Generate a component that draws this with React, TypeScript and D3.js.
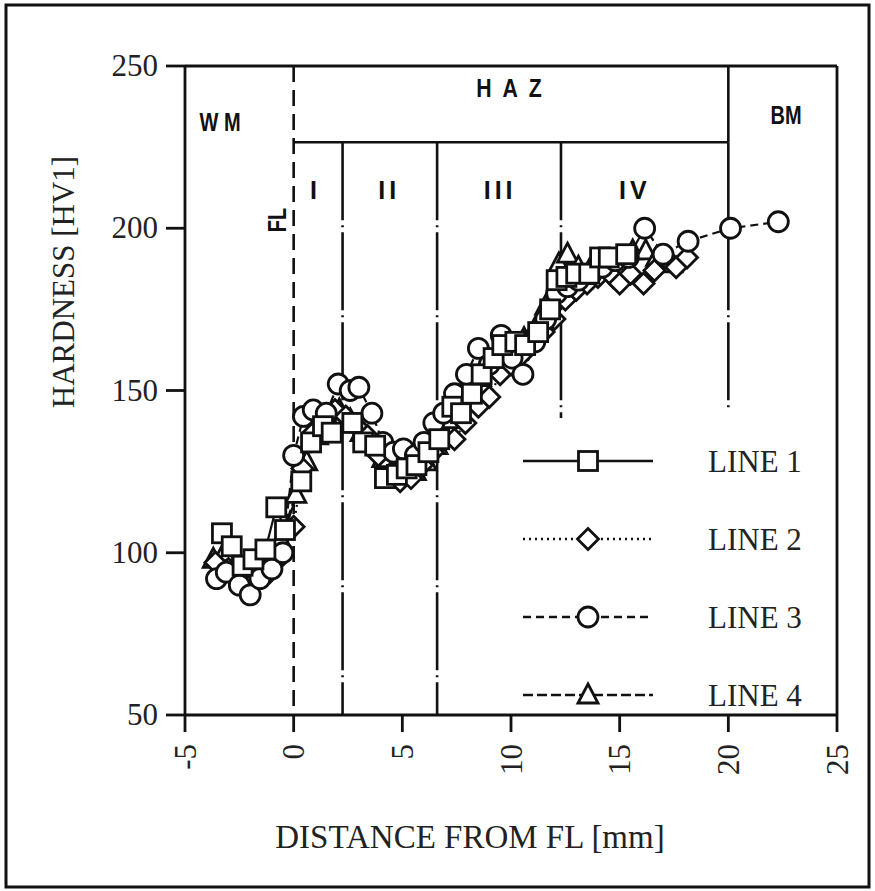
import React from "react";
import * as d3 from "d3";

// ---- data ----
const line1: [number, number][] = [
  [-3.3, 106], [-2.85, 102], [-2.35, 96], [-1.85, 98], [-1.3, 101], [-0.8, 114], [-0.4, 107],
  [0.35, 122], [0.8, 134], [1.35, 139], [1.75, 137], [2.7, 140], [3.2, 134], [3.75, 133],
  [4.2, 123], [4.75, 124], [5.2, 126], [5.65, 127], [6.2, 131], [6.7, 135], [7.3, 145],
  [7.7, 143], [8.2, 149], [8.65, 155], [9.2, 160], [9.6, 164], [10.2, 165], [10.65, 164],
  [11.25, 168], [11.8, 175], [12.1, 184], [12.55, 185], [13.0, 186], [13.6, 186], [14.1, 191],
  [14.5, 191], [15.3, 192],
];
const line2: [number, number][] = [
  [-3.6, 97], [-3.0, 95], [-2.5, 92], [-2.0, 90], [-1.6, 93], [-1.1, 94], [-0.55, 99], [0, 108],
  [0.4, 126], [0.9, 137], [1.4, 141], [1.9, 144], [2.4, 142], [2.9, 139], [3.4, 136], [3.9, 130],
  [4.4, 124], [4.9, 122], [5.4, 123], [5.9, 127], [6.4, 131], [6.9, 135], [7.4, 135], [7.9, 140],
  [8.5, 145], [9.0, 148], [9.5, 155], [10.0, 158], [10.5, 161], [11.0, 165], [11.5, 168],
  [12.0, 172], [12.5, 178], [13.0, 181], [13.5, 183], [14.0, 185], [14.7, 185], [15.0, 183],
  [15.5, 186], [16.1, 183], [16.6, 187], [17.1, 191], [17.6, 188], [18.1, 191],
];
const line3: [number, number][] = [
  [-3.55, 92], [-3.1, 94], [-2.5, 90], [-2.0, 87], [-1.55, 92], [-1.0, 95], [-0.5, 100], [0, 130],
  [0.45, 142], [0.9, 144], [1.5, 143], [2.05, 152], [2.6, 150], [3.0, 151], [3.6, 143], [4.1, 134],
  [4.6, 131], [5.05, 132], [5.6, 130], [6.0, 134], [6.45, 140], [6.9, 143], [7.4, 149], [7.95, 155],
  [8.5, 163], [9.0, 158], [9.55, 167], [10.05, 160], [10.55, 155], [11.1, 165], [11.6, 172],
  [12.1, 180], [12.6, 182], [13.1, 184], [13.7, 186], [14.2, 188], [14.8, 190], [15.4, 191],
  [16.15, 200], [17.0, 192], [18.15, 196], [20.1, 200], [22.3, 202],
];
const line4: [number, number][] = [
  [-3.7, 98], [-3.2, 100], [-2.7, 96], [-2.2, 94], [-1.7, 96], [-1.2, 100], [-0.6, 104], [0.1, 118],
  [0.6, 128], [1.1, 136], [1.6, 141], [2.1, 144], [2.6, 141], [3.1, 137], [3.6, 134], [4.1, 129],
  [4.6, 125], [5.1, 124], [5.6, 125], [6.1, 128], [6.6, 133], [7.1, 141], [7.6, 146], [8.1, 151],
  [8.6, 154], [9.1, 157], [9.6, 160], [10.1, 163], [10.6, 166], [11.1, 169], [11.6, 176],
  [12.2, 189], [12.6, 192], [13.1, 188], [13.6, 187], [14.1, 189], [14.6, 190], [15.1, 191],
  [15.6, 193], [16.2, 193], [16.7, 191], [17.4, 189],
];
const seriesNames = ["LINE 1", "LINE 2", "LINE 3", "LINE 4"];
const xTicks = [-5, 0, 5, 10, 15, 20, 25];
const yTicks = [50, 100, 150, 200, 250];
// zone boundaries (mm) and labels
const fusionLine = 0;
const zoneBounds = [2.25, 6.6, 12.3];
const bmBound = 20;
const hazBoxBottom = 226.5;
const zoneLabels: [string, number][] = [["I", 1.0], ["II", 4.4], ["III", 9.5], ["IV", 15.7]];

const x = d3.scaleLinear().domain([-5, 25]).range([185, 837]);
const y = d3.scaleLinear().domain([50, 250]).range([715, 66]);

const SERIF = "'Liberation Serif', 'Times New Roman', serif";
const SANS = "'Liberation Sans Narrow', 'Liberation Sans', Arial, sans-serif";
const DASHDOT = "78,5,2,5";

const styles = [
  { dash: "none", marker: "square" },
  { dash: "2,4", marker: "diamond" },
  { dash: "8,5", marker: "circle" },
  { dash: "10,4", marker: "triangle" },
];

function Marker({ type, cx, cy }: { type: string; cx: number; cy: number }) {
  const p = { fill: "#fff", stroke: "#111", strokeWidth: 2.8 };
  if (type === "square") return <rect x={cx - 9.5} y={cy - 9.5} width={19} height={19} {...p} />;
  if (type === "circle") return <circle cx={cx} cy={cy} r={10} {...p} />;
  if (type === "diamond")
    return <path d={`M${cx},${cy - 10.5}L${cx + 10.5},${cy}L${cx},${cy + 10.5}L${cx - 10.5},${cy}Z`} {...p} />;
  return <path d={`M${cx},${cy - 11}L${cx + 10},${cy + 8}L${cx - 10},${cy + 8}Z`} {...p} />;
}

function Label({ cx, cy, text, rotate = 0, sx = 0.8, ls = 0 }: { cx: number; cy: number; text: string; rotate?: number; sx?: number; ls?: number }) {
  return (
    <text transform={`translate(${cx},${cy}) rotate(${rotate}) scale(${sx},1)`} textAnchor="middle"
      fontFamily={SANS} fontWeight={700} fontSize={25} fill="#111" style={{ whiteSpace: "pre", letterSpacing: ls }}>{text}</text>
  );
}

export default function App() {
  const data = [line1, line2, line3, line4];
  const drawOrder = [3, 1, 2, 0];
  const lineGen = d3.line<[number, number]>().x((d) => x(d[0])).y((d) => y(d[1]));
  const boxY = y(hazBoxBottom);
  const legendY = [461, 539, 617, 695];
  return (
    <svg width={875} height={891} style={{ position: "absolute", left: 0, top: 0, background: "#fff" }}>
      <rect x={0} y={0} width={875} height={891} fill="#fff" />
      <rect x={6} y={5} width={863} height={882} fill="none" stroke="#111" strokeWidth={3} />

      {/* axes frame */}
      <g stroke="#111" strokeWidth={2.8} fill="none">
        <line x1={x(-5)} y1={y(250)} x2={x(-5)} y2={y(50)} />
        <line x1={x(-5)} y1={y(50)} x2={x(25)} y2={y(50)} />
        <line x1={x(25)} y1={y(250)} x2={x(25)} y2={y(50)} />
        <line x1={x(-5)} y1={y(250)} x2={x(25)} y2={y(250)} />
        {yTicks.map((t) => (
          <line key={t} x1={x(-5) - 19} x2={x(-5)} y1={y(t)} y2={y(t)} />
        ))}
        {xTicks.map((t) => (
          <line key={t} x1={x(t)} x2={x(t)} y1={y(50)} y2={y(50) + 17} />
        ))}
      </g>

      {/* zone lines */}
      <g stroke="#111" strokeWidth={2.6} fill="none">
        <line x1={x(fusionLine)} x2={x(fusionLine)} y1={y(250)} y2={y(50)} strokeDasharray="16,8" />
        <line x1={x(fusionLine)} x2={x(bmBound)} y1={boxY} y2={boxY} />
        <line x1={x(bmBound)} x2={x(bmBound)} y1={y(250)} y2={boxY} />
        <line x1={x(bmBound)} x2={x(bmBound)} y1={boxY} y2={y(144.5)} strokeDasharray={DASHDOT} />
        <line x1={x(zoneBounds[0])} x2={x(zoneBounds[0])} y1={boxY} y2={y(50)} strokeDasharray={DASHDOT} />
        <line x1={x(zoneBounds[1])} x2={x(zoneBounds[1])} y1={boxY} y2={y(50)} strokeDasharray={DASHDOT} />
        <line x1={x(zoneBounds[2])} x2={x(zoneBounds[2])} y1={boxY} y2={y(141.5)} strokeDasharray={DASHDOT} />
      </g>

      {/* zone labels */}
      <Label cx={220} cy={131} text="W M" />
      <Label cx={x(10) - 2} cy={97} text="H  A  Z" sx={0.85} />
      <Label cx={786} cy={124} text="BM" />
      <Label cx={286} cy={220} text="FL" rotate={-90} />
      {zoneLabels.map(([s, v]) => (
        <Label key={s} cx={x(v)} cy={199} text={s} sx={1} ls={4} />
      ))}

      {/* series lines */}
      {drawOrder.map((i) => (
        <path key={"l" + i} d={lineGen(data[i]) || ""} fill="none" stroke="#111" strokeWidth={2.2}
          strokeDasharray={styles[i].dash} />
      ))}
      {/* markers */}
      {drawOrder.map((i) => (
        <g key={"m" + i}>
          {data[i].map((d, j) => (
            <Marker key={j} type={styles[i].marker} cx={x(d[0])} cy={y(d[1])} />
          ))}
        </g>
      ))}

      {/* legend */}
      {seriesNames.map((n, i) => (
        <g key={n}>
          <line x1={523} x2={653} y1={legendY[i]} y2={legendY[i]} stroke="#111" strokeWidth={2.4}
            strokeDasharray={styles[i].dash} />
          <Marker type={styles[i].marker} cx={588} cy={legendY[i]} />
          <text x={708} y={legendY[i] + 11} fontFamily={SERIF} fontSize={31} fill="#222">{n}</text>
        </g>
      ))}

      {/* tick labels */}
      {yTicks.map((t) => (
        <text key={t} x={158} y={y(t) + 10} textAnchor="end" fontFamily={SERIF} fontSize={31} fill="#222">{t}</text>
      ))}
      {xTicks.map((t) => (
        <text key={t} transform={`translate(${x(t)},${744}) rotate(-90)`} textAnchor="end" dominantBaseline="central"
          fontFamily={SERIF} fontSize={31} fill="#222">{t}</text>
      ))}

      {/* axis titles */}
      <text transform="translate(63,282) rotate(-90)" textAnchor="middle" dominantBaseline="central"
        fontFamily={SERIF} fontSize={31} fill="#222">HARDNESS [HV1]</text>
      <text x={470} y={848} textAnchor="middle" fontFamily={SERIF} fontSize={33} fill="#222">DISTANCE FROM FL [mm]</text>
    </svg>
  );
}
